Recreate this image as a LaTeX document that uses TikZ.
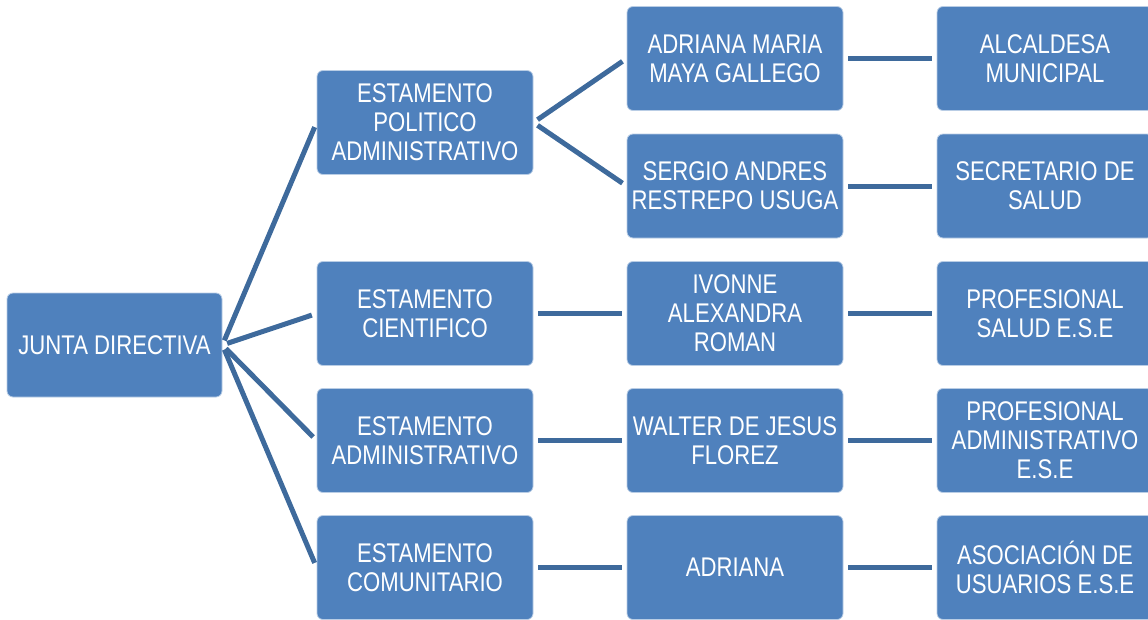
\documentclass[tikz,border=0pt]{standalone}
\usepackage{fontspec}
\setmainfont{Liberation Sans}[FakeStretch=0.82]
\definecolor{boxblue}{HTML}{4F81BD}
\definecolor{boxedge}{HTML}{B9CDE5}
\definecolor{linkblue}{HTML}{3E6A9C}
\tikzset{
  unit/.style={draw=boxedge, line width=0.8pt, fill=boxblue, rounded corners=6pt,
    minimum width=216pt, minimum height=104pt, text=white, align=center,
    font=\fontsize{27}{29}\selectfont, inner sep=2pt},
  link/.style={draw=linkblue, line width=5pt, shorten <=5pt, shorten >=5pt}
}
\begin{document}
\begin{tikzpicture}[x=1pt,y=-1pt]
\useasboundingbox (0,0) rectangle (1148,619);
\node[unit, minimum width=215pt] (j) at (114.5,345) {JUNTA DIRECTIVA};
\node[unit] (p) at (425,122.5) {ESTAMENTO\\POLITICO\\ADMINISTRATIVO};
\node[unit] (c) at (425,313.5) {ESTAMENTO\\CIENTIFICO};
\node[unit] (a) at (425,440.5) {ESTAMENTO\\ADMINISTRATIVO};
\node[unit] (m) at (425,567.5) {ESTAMENTO\\COMUNITARIO};
\node[unit] (p1) at (735,58.5) {ADRIANA MARIA\\MAYA GALLEGO};
\node[unit] (p2) at (735,186) {SERGIO ANDRES\\RESTREPO USUGA};
\node[unit] (c1) at (735,313.5) {IVONNE\\ALEXANDRA\\ROMAN};
\node[unit] (a1) at (735,440.5) {WALTER DE JESUS\\FLOREZ};
\node[unit] (m1) at (735,567.5) {ADRIANA};
\node[unit] (p1r) at (1045,58.5) {ALCALDESA\\MUNICIPAL};
\node[unit] (p2r) at (1045,186) {SECRETARIO DE\\SALUD};
\node[unit] (c1r) at (1045,313.5) {PROFESIONAL\\SALUD E.S.E};
\node[unit] (a1r) at (1045,440.5) {PROFESIONAL\\ADMINISTRATIVO\\E.S.E};
\node[unit] (m1r) at (1045,567.5) {ASOCIACIÓN DE\\USUARIOS E.S.E};
\foreach \t in {p,c,a,m} \draw[link] (j.east) -- (\t.west);
\draw[link] (p.east) -- (p1.west);
\draw[link] (p.east) -- (p2.west);
\draw[link] (c.east) -- (c1.west);
\draw[link] (a.east) -- (a1.west);
\draw[link] (m.east) -- (m1.west);
\draw[link] (p1.east) -- (p1r.west);
\draw[link] (p2.east) -- (p2r.west);
\draw[link] (c1.east) -- (c1r.west);
\draw[link] (a1.east) -- (a1r.west);
\draw[link] (m1.east) -- (m1r.west);
\end{tikzpicture}
\end{document}
